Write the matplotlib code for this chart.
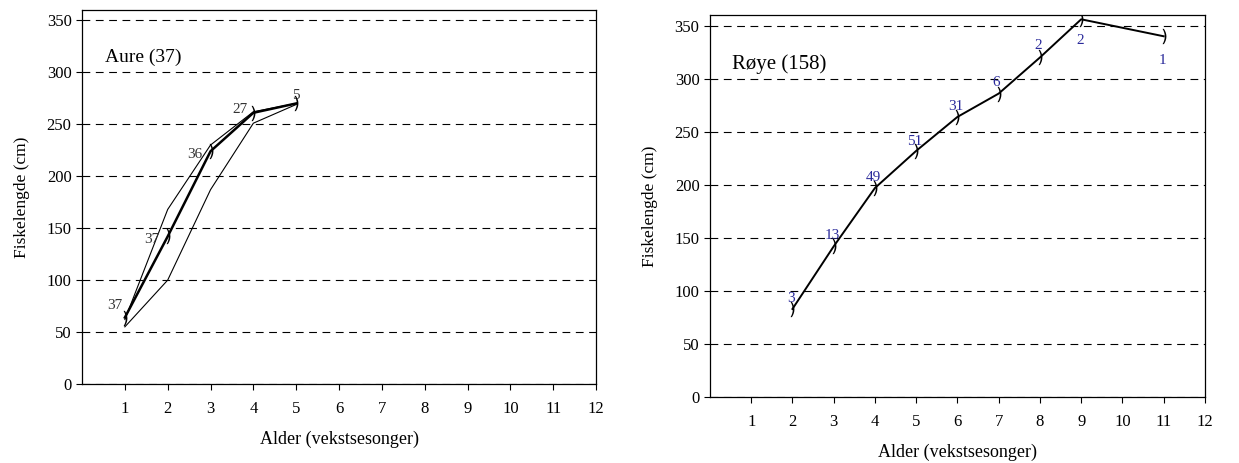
import matplotlib
matplotlib.use('Agg')
import matplotlib.pyplot as plt

# data
aure_age = [1, 2, 3, 4, 5]
aure_mean = [64, 142, 224, 261, 270]
aure_upper = [62, 168, 230, 262, 270]
aure_lower = [55, 100, 187, 251, 269]
aure_n = [37, 37, 36, 27, 5]

roye_age = [2, 3, 4, 5, 6, 7, 8, 9, 11]
roye_mean = [83, 142, 197, 232, 264, 286, 320, 356, 340]
roye_n = [3, 13, 49, 51, 31, 6, 2, 2, 1]

xticks = list(range(1, 13))
yticks = list(range(0, 351, 50))

plt.rcParams['font.family'] = ['Liberation Serif', 'DejaVu Serif']

fig = plt.figure(figsize=(12.39, 4.63), dpi=100)
ax1 = fig.add_axes([0.0662, 0.1706, 0.4149, 0.808])
ax2 = fig.add_axes([0.573, 0.1425, 0.3995, 0.825])


def style_axes(ax, title, title_size):
    ax.set_xlim(0, 12)
    ax.set_ylim(0, 360)
    ax.set_xticks(xticks)
    ax.set_yticks(yticks)
    ax.tick_params(labelsize=12, length=4, width=0.8, direction='out')
    ax.tick_params(axis='x', pad=8)
    for y in yticks:
        ax.axhline(y, color='black', lw=0.8, ls=(0, (7, 5)), zorder=1)
    for s in ax.spines.values():
        s.set_linewidth(0.9)
    ax.set_xlabel('Alder (vekstsesonger)', fontsize=13, labelpad=10)
    ax.set_ylabel('Fiskelengde (cm)', fontsize=12.5, labelpad=12)
    ax.text(0.045, 0.86, title, transform=ax.transAxes, fontsize=title_size)


style_axes(ax1, 'Aure (37)', 14)
style_axes(ax2, 'Røye (158)', 15)

# Aure: thin bounding lines plus thick mean line
ax1.plot(aure_age, aure_upper, color='black', lw=0.8, zorder=3)
ax1.plot(aure_age, aure_lower, color='black', lw=0.8, zorder=3)
ax1.plot(aure_age, aure_mean, color='black', lw=1.8, zorder=4,
         marker='$)$', markersize=11, markeredgewidth=0)
aure_off = [(-2, 4), (-6, -7), (-6, -7), (-4, -2), (0, 1)]
for x, y, n, off in zip(aure_age, aure_mean, aure_n, aure_off):
    ax1.annotate(str(n), (x, y), xytext=off, textcoords='offset points',
                 ha='right' if off[0] < 0 else 'center', va='bottom',
                 fontsize=11, color='#333333')

ax2.plot(roye_age, roye_mean, color='black', lw=1.4, zorder=4,
         marker='$)$', markersize=11, markeredgewidth=0)
roye_off = [(-1, 3), (-1, 3), (-1, 3), (-1, 2), (-1, 3), (-2, 3), (-1, 4),
            (-1, -20), (-1, -22)]
for x, y, n, off in zip(roye_age, roye_mean, roye_n, roye_off):
    ax2.annotate(str(n), (x, y), xytext=off, textcoords='offset points',
                 ha='center', va='bottom', fontsize=11, color='#2a2a9a')

fig.savefig('out.png', dpi=100)
